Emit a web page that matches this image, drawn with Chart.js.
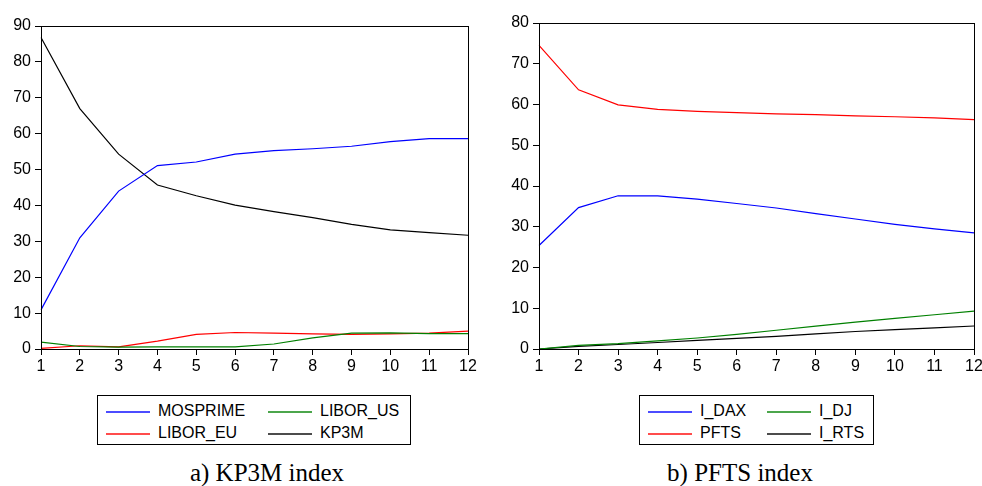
<!DOCTYPE html>
<html>
<head>
<meta charset="utf-8">
<script src="https://cdn.jsdelivr.net/npm/chart.js@4.4.1/dist/chart.umd.min.js"></script>
<style>
  html, body { margin: 0; padding: 0; background: #fff; overflow: hidden; }
  body { width: 982px; height: 486px; position: relative; }
  .wrap { position: absolute; top: 0; }
  .legend { position: absolute; border: 1px solid #000; box-sizing: border-box;
            font: 16px "Liberation Sans", Arial, sans-serif; color: #000; }
  .item { position: absolute; white-space: nowrap; line-height: 16px; height: 16px; width: 140px; }
  .item .ln { position: absolute; left: 0; top: 8px; height: 2px; width: 44px; opacity: 0.7; }
  .item .tx { position: absolute; left: 52px; top: 0; }
  .caption { position: absolute; font: 25px "Liberation Serif", "Times New Roman", serif; color: #000;
             white-space: nowrap; transform: translateX(-50%); }
</style>
</head>
<body>
<div class="wrap" style="left:0;width:490px;height:385px"><canvas id="chA"></canvas></div>
<div class="wrap" style="left:500px;width:500px;height:385px"><canvas id="chB"></canvas></div>
<div class="legend" id="legA" style="left:97px;top:395px;width:314px;height:50px"></div>
<div class="legend" id="legB" style="left:639px;top:395px;width:235px;height:50px"></div>
<div class="caption" style="left:267px;top:459px">a) KP3M index</div>
<div class="caption" style="left:740px;top:459px">b) PFTS index</div>
<script>
// horizon (months)
const horizon = ['1','2','3','4','5','6','7','8','9','10','11','12'];

// a) KP3M index
const mosprime = [10.9, 31.0, 44.0, 51.1, 52.1, 54.3, 55.3, 55.8, 56.5, 57.8, 58.6, 58.6];
const liborEu  = [0.2, 0.9, 0.6, 2.2, 4.1, 4.6, 4.4, 4.2, 4.1, 4.2, 4.4, 5.0];
const liborUs  = [1.9, 0.7, 0.5, 0.6, 0.6, 0.6, 1.4, 3.1, 4.4, 4.5, 4.3, 4.3];
const kp3m     = [86.8, 67.0, 54.3, 45.7, 42.7, 40.1, 38.3, 36.6, 34.7, 33.2, 32.4, 31.7];

// b) PFTS index
const iDax = [25.4, 34.7, 37.6, 37.6, 36.8, 35.7, 34.6, 33.2, 31.9, 30.6, 29.5, 28.5];
const pfts = [74.5, 63.6, 59.9, 58.8, 58.3, 58.0, 57.7, 57.5, 57.2, 57.0, 56.7, 56.3];
const iDj  = [0.0, 0.9, 1.3, 2.0, 2.7, 3.6, 4.6, 5.6, 6.6, 7.5, 8.4, 9.3];
const iRts = [0.0, 0.65, 1.1, 1.6, 2.1, 2.6, 3.1, 3.7, 4.3, 4.75, 5.2, 5.65];

const seriesA = [
  {label: 'MOSPRIME', data: mosprime, color: '#0000ff'},
  {label: 'LIBOR_US', data: liborUs, color: '#008000'},
  {label: 'LIBOR_EU', data: liborEu, color: '#ff0000'},
  {label: 'KP3M', data: kp3m, color: '#000000'}
];
const seriesB = [
  {label: 'I_DAX', data: iDax, color: '#0000ff'},
  {label: 'I_DJ', data: iDj, color: '#008000'},
  {label: 'PFTS', data: pfts, color: '#ff0000'},
  {label: 'I_RTS', data: iRts, color: '#000000'}
];

// box round the plot area
const frame = {
  id: 'frame',
  afterDatasetsDraw(chart) {
    const a = chart.chartArea, ctx = chart.ctx;
    ctx.save();
    ctx.strokeStyle = '#000';
    ctx.lineWidth = 1;
    ctx.strokeRect(Math.round(a.left) + 0.5, Math.round(a.top) + 0.5,
                   Math.round(a.right - a.left), Math.round(a.bottom - a.top));
    ctx.restore();
  }
};

function makeChart(id, series, ymax, yWidth, pad) {
  const font = {family: '"Liberation Sans", Arial, sans-serif', size: 16};
  return new Chart(document.getElementById(id), {
    type: 'line',
    data: {
      labels: horizon,
      datasets: series.map(s => ({
        label: s.label, data: s.data, borderColor: s.color, backgroundColor: s.color,
        borderWidth: 1.2, pointRadius: 0, tension: 0, fill: false
      }))
    },
    options: {
      responsive: true,
      maintainAspectRatio: false,
      animation: false,
      layout: {padding: pad},
      plugins: {legend: {display: false}, tooltip: {enabled: false}},
      scales: {
        x: {
          offset: false,
          grid: {drawOnChartArea: false, drawTicks: true, tickLength: 6, color: '#000'},
          border: {display: false},
          ticks: {font: font, color: '#000', padding: 2, maxRotation: 0, autoSkip: false},
          afterFit(scale) { scale.height = 36; }
        },
        y: {
          min: 0, max: ymax,
          grid: {drawOnChartArea: false, drawTicks: true, tickLength: 6, color: '#000'},
          border: {display: false},
          ticks: {stepSize: 10, font: font, color: '#000', padding: 4},
          afterFit(scale) { scale.width = yWidth; }
        }
      }
    },
    plugins: [frame]
  });
}

makeChart('chA', seriesA, 90, 41, {top: 26, right: 22, left: 0, bottom: 0});
makeChart('chB', seriesB, 80, 39, {top: 23, right: 26, left: 0, bottom: 0});

function makeLegend(id, series, col2) {
  const box = document.getElementById(id);
  series.forEach((s, i) => {
    const item = document.createElement('div');
    item.className = 'item';
    item.style.left = (i % 2 === 0 ? 8 : col2) + 'px';
    item.style.top = (i < 2 ? 7 : 29) + 'px';
    const ln = document.createElement('div');
    ln.className = 'ln';
    ln.style.backgroundColor = s.color;
    const tx = document.createElement('div');
    tx.className = 'tx';
    tx.textContent = s.label;
    item.appendChild(ln);
    item.appendChild(tx);
    box.appendChild(item);
  });
}
makeLegend('legA', seriesA, 170);
makeLegend('legB', seriesB, 127);
</script>
</body>
</html>
